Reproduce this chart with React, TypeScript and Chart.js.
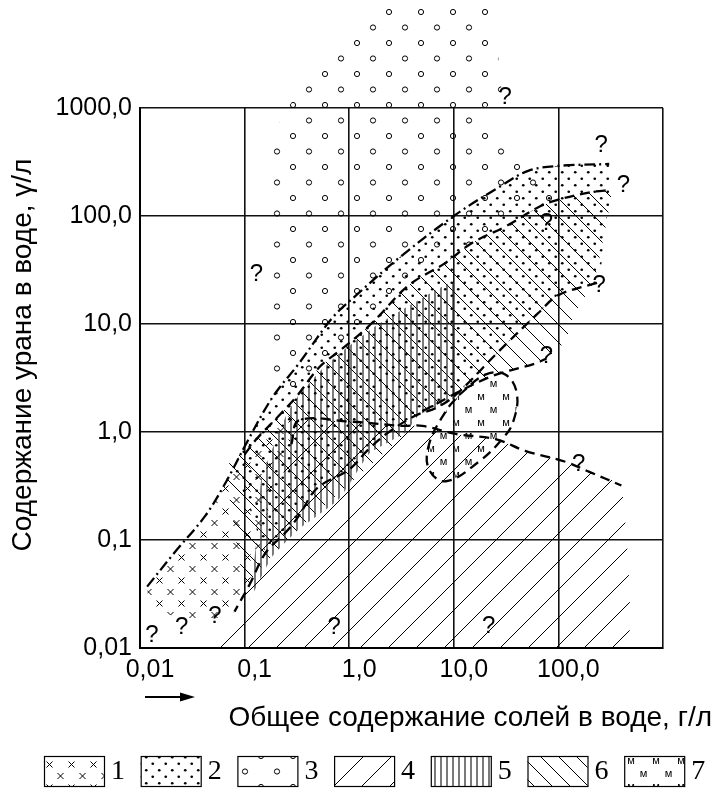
import React, { useEffect, useRef } from "react";
import { Chart, registerables } from "chart.js";
Chart.register(...registerables);

type P = [number, number];

// ---- axes ----
const xTickValues = [0.01, 0.1, 1, 10, 100, 1000];
const xTickLabels = ["0,01", "0,1", "1,0", "10,0", "100,0", ""];
const yTickValues = [0.01, 0.1, 1, 10, 100, 1000];
const yTickLabels = ["0,01", "0,1", "1,0", "10,0", "100,0", "1000,0"];
const xTitle = "Общее содержание солей в воде, г/л";
const yTitle = "Содержание урана в воде, γ/л";

// ---- regions (x: salts g/l, y: uranium γ/l) ----
const region1: P[] = [[0.0117,0.037],[0.0215,0.077],[0.042,0.167],[0.067,0.35],[0.105,0.74],[0.173,1.19],[0.28,1.46],[0.27,0.77],[0.19,0.3],[0.145,0.102],[0.112,0.039],[0.08,0.0217],[0.046,0.0183],[0.019,0.0203],[0.0124,0.024]];
const region2: P[] = [[0.075,0.45],[0.105,0.8],[0.185,2.1],[0.33,4.3],[0.69,11.4],[1.17,18.5],[3.0,41],[10,100],[27,185],[52,263],[100,291],[306,303],[320,174],[273,66],[234,24],[100,18.5],[64,12.6],[27,5.6],[10.4,2.2],[6.7,1.66],[4.35,1.43],[2.4,1.0],[1.55,0.7],[1.0,0.45],[0.49,0.3],[0.33,0.167],[0.25,0.119],[0.16,0.077],[0.117,0.174],[0.09,0.33]];
const region3: P[] = [[1.14,4500],[2.15,8700],[21.5,8700],[28.7,1300],[17.3,900],[30,440],[58,252],[100,142],[67,123],[32,81],[14.8,56],[8.4,37],[3.7,22.8],[1.85,11.4],[0.8,5.6],[0.52,4.0],[0.31,2.17],[0.215,2.17],[0.166,3.2],[0.166,467],[0.24,866],[0.33,1450]];
const region4: P[] = [[0.055,0.01],[0.09,0.025],[0.13,0.057],[0.2,0.24],[0.28,0.74],[0.33,1.28],[1.0,1.25],[3.2,1.14],[5.0,1.14],[10.4,0.96],[25,0.86],[48,0.67],[117,0.53],[195,0.43],[400,0.32],[437,0.01]];
const region5: P[] = [[0.112,0.028],[0.13,0.10],[0.145,0.37],[0.25,1.43],[0.33,2.2],[0.52,3.6],[0.8,5.3],[1.85,9.8],[4.6,16.6],[10,24],[10,2.08],[6.7,1.66],[4.6,1.43],[3.5,1.0],[2.4,0.81],[1.55,0.63],[0.8,0.24],[0.33,0.126],[0.185,0.071],[0.13,0.037]];
const region6: P[] = [[0.065,0.47],[0.13,0.86],[0.2,1.33],[0.31,2.1],[0.52,4.0],[0.8,5.6],[1.33,8.4],[1.85,11.4],[3.7,22.8],[8.4,37],[14.8,56],[32,81],[67,123],[100,142],[209,167],[320,174],[273,66],[219,25],[140,12.1],[117,7.0],[77,4.8],[21.5,3.2],[5.0,1.56],[3.0,0.86],[1.0,0.33],[0.33,0.126],[0.14,0.054],[0.1,0.039]];
const region7: P[] = [[11.2,2.2],[20,3.4],[31,3.4],[40,2.3],[37,1.25],[29,0.86],[17.3,0.53],[8.4,0.35],[5.8,0.45],[5.8,0.77],[8.4,1.56]];

// ---- boundary lines ----
const boundaryA: P[] = [[0.0117,0.037],[0.0215,0.077],[0.042,0.167],[0.067,0.35],[0.105,0.8],[0.185,2.1],[0.33,4.3],[0.69,11.4],[1.17,18.5],[3.0,41],[10,100],[27,185],[52,263],[100,291],[306,303]];
const boundaryB: P[] = [[0.1,0.62],[0.13,0.86],[0.2,1.33],[0.31,2.1],[0.52,4.0],[0.8,5.6],[1.33,8.4],[1.85,11.4],[3.7,22.8],[8.4,37],[14.8,56],[32,81],[67,123],[100,142],[209,167],[320,174]];
const boundaryC: P[] = [[234,24],[100,18.5],[64,12.6],[27,5.6],[10.4,2.2],[6.7,1.66],[4.35,1.43],[2.4,1.0],[1.55,0.7],[1.0,0.45],[0.49,0.3],[0.33,0.167],[0.25,0.119],[0.16,0.077],[0.112,0.039],[0.08,0.0217]];
const boundaryD: P[] = [[0.28,0.77],[0.33,1.28],[1.0,1.25],[3.2,1.14],[5.0,1.14],[10.4,0.96],[25,0.86],[48,0.67],[117,0.53],[195,0.43],[400,0.32]];
const boundaryE: P[] = [[5.0,1.56],[21.5,3.2],[60,4.3],[77,4.8]];

// ---- question marks ----
const questionMarks: P[] = [[31,1250],[256,450],[418,193],[77,86],[245,22.8],[77,5.0],[0.13,29],[156,0.5],[0.72,0.0154],[21.5,0.016],[0.013,0.0132],[0.025,0.0154],[0.052,0.0195]];

const legendLabels = ["1", "2", "3", "4", "5", "6", "7"];

const FONT = "'Liberation Sans', Arial, sans-serif";
const SERIF = "'Liberation Serif', 'Times New Roman', serif";

function makePattern(w: number, h: number, draw: (c: CanvasRenderingContext2D) => void): CanvasPattern {
  const cv = document.createElement("canvas");
  cv.width = w;
  cv.height = h;
  const c = cv.getContext("2d")!;
  c.strokeStyle = "#000";
  c.fillStyle = "#000";
  c.lineWidth = 1;
  draw(c);
  return c.createPattern(cv, "repeat")!;
}

const toPts = (a: P[], close: boolean) => {
  const pts = a.map(([x, y]) => ({ x, y }));
  if (close) pts.push({ x: a[0][0], y: a[0][1] });
  return pts;
};

export default function App() {
  const ref = useRef<HTMLCanvasElement>(null);

  useEffect(() => {
    const canvas = ref.current!;

    const patCross = makePattern(22, 23, (c) => {
      const cr = (x: number, y: number) => {
        c.beginPath();
        c.moveTo(x - 3, y - 3); c.lineTo(x + 3, y + 3);
        c.moveTo(x + 3, y - 3); c.lineTo(x - 3, y + 3);
        c.stroke();
      };
      cr(5.5, 5.5); cr(16.5, 17);
    });
    const patDots = makePattern(13, 13, (c) => {
      [[3.25, 3.25], [9.75, 9.75]].forEach(([x, y]) => { c.beginPath(); c.arc(x, y, 1.35, 0, Math.PI * 2); c.fill(); });
    });
    const patCircles = makePattern(32, 31, (c) => {
      [[5, 12], [21, 27.5]].forEach(([x, y]) => { c.beginPath(); c.arc(x, y, 2.6, 0, Math.PI * 2); c.stroke(); });
    });
    const patSlash = makePattern(28, 28, (c) => {
      c.beginPath();
      c.moveTo(-1, 29); c.lineTo(29, -1);
      c.moveTo(-1, 1); c.lineTo(1, -1);
      c.moveTo(27, 29); c.lineTo(29, 27);
      c.stroke();
    });
    const patVert = makePattern(6, 6, (c) => {
      c.strokeStyle = "#333"; c.lineWidth = 1.3;
      c.beginPath(); c.moveTo(3, 0); c.lineTo(3, 6); c.stroke();
    });
    const patBack = makePattern(18, 18, (c) => {
      c.beginPath();
      c.moveTo(-1, -1); c.lineTo(19, 19);
      c.moveTo(17, -1); c.lineTo(19, 1);
      c.moveTo(-1, 17); c.lineTo(1, 19);
      c.stroke();
    });
    const patM = makePattern(25, 26, (c) => {
      c.font = `11px ${FONT}`;
      c.textAlign = "center";
      c.textBaseline = "middle";
      c.fillText("м", 6, 7);
      c.fillText("м", 18.5, 20);
    });

    const regionDefs: { data: P[]; pat: CanvasPattern; tension: number }[] = [
      { data: region1, pat: patCross, tension: 0.2 },
      { data: region2, pat: patDots, tension: 0.2 },
      { data: region3, pat: patCircles, tension: 0.1 },
      { data: region4, pat: patSlash, tension: 0.1 },
      { data: region5, pat: patVert, tension: 0.15 },
      { data: region6, pat: patBack, tension: 0.15 },
      { data: region7, pat: patM, tension: 0.35 },
    ];

    const lineDefs: { data: P[]; dash: number[]; close: boolean }[] = [
      { data: boundaryA, dash: [11, 4, 2, 4], close: false },
      { data: boundaryB, dash: [10, 6], close: false },
      { data: boundaryC, dash: [10, 6], close: false },
      { data: boundaryD, dash: [10, 6], close: false },
      { data: boundaryE, dash: [10, 6], close: false },
      { data: region7, dash: [10, 6], close: true },
    ];

    const datasets: any[] = [
      ...lineDefs.map((l, i) => ({
        label: "boundary" + i,
        data: toPts(l.data, l.close),
        borderColor: "#000",
        borderWidth: 2.3,
        borderDash: l.dash,
        fill: false,
        pointRadius: 0,
        tension: l.close ? 0.4 : 0.35,
        order: 0,
      })),
      ...regionDefs.map((r, i) => ({
        label: legendLabels[i],
        data: toPts(r.data, true),
        borderWidth: 0,
        borderColor: "rgba(0,0,0,0)",
        backgroundColor: r.pat,
        fill: "shape",
        pointRadius: 0,
        tension: r.tension,
        order: 1,
        isRegion: true,
      })),
    ];

    const unclipTop = {
      id: "unclipTop",
      beforeDatasetsDraw(chart: any) {
        chart.$savedTop = chart.chartArea.top;
        chart.chartArea.top = 0;
      },
      afterDatasetsDraw(chart: any) {
        chart.chartArea.top = chart.$savedTop;
      },
    };

    const decor = {
      id: "decor",
      afterDraw(chart: any) {
        const ctx: CanvasRenderingContext2D = chart.ctx;
        const xs = chart.scales.x;
        const ys = chart.scales.y;
        const area = chart.chartArea;
        ctx.save();
        ctx.fillStyle = "#000";
        ctx.strokeStyle = "#000";

        // question marks
        ctx.font = `24px ${FONT}`;
        ctx.textAlign = "center";
        ctx.textBaseline = "middle";
        questionMarks.forEach(([x, y]) => {
          ctx.fillText("?", xs.getPixelForValue(x), ys.getPixelForValue(y));
        });

        // x title
        ctx.font = `28px ${FONT}`;
        ctx.textAlign = "right";
        ctx.textBaseline = "alphabetic";
        ctx.fillText(xTitle, chart.width - 4, area.bottom + 78);

        // arrow under first x label
        const ax = area.left + 5;
        const ay = area.bottom + 49;
        ctx.lineWidth = 2;
        ctx.beginPath();
        ctx.moveTo(ax, ay);
        ctx.lineTo(ax + 38, ay);
        ctx.stroke();
        ctx.beginPath();
        ctx.moveTo(ax + 35, ay - 4.5);
        ctx.lineTo(ax + 50, ay);
        ctx.lineTo(ax + 35, ay + 4.5);
        ctx.closePath();
        ctx.fill();

        // y title
        ctx.save();
        ctx.translate(31, (area.top + area.bottom) / 2 - 23);
        ctx.rotate(-Math.PI / 2);
        ctx.font = `28px ${FONT}`;
        ctx.textAlign = "center";
        ctx.textBaseline = "alphabetic";
        ctx.fillText(yTitle, 0, 0);
        ctx.restore();

        // legend
        const regs = chart.data.datasets.filter((d: any) => d.isRegion);
        const x0 = 44, step = 96.7, top = 756, bw = 60, bh = 30;
        ctx.font = `28px ${SERIF}`;
        ctx.textAlign = "left";
        ctx.textBaseline = "middle";
        ctx.lineWidth = 1.2;
        regs.forEach((d: any, i: number) => {
          const x = x0 + i * step;
          ctx.fillStyle = d.backgroundColor;
          ctx.fillRect(x, top, bw, bh);
          ctx.strokeRect(x + 0.5, top + 0.5, bw, bh);
          ctx.fillStyle = "#000";
          ctx.fillText(d.label, x + bw + 7, top + bh / 2 + 1);
        });
        ctx.restore();
      },
    };

    const chart = new Chart(canvas, {
      type: "line",
      data: { datasets },
      plugins: [unclipTop, decor],
      options: {
        responsive: false,
        animation: false,
        events: [],
        layout: { padding: { left: 0, right: 53, top: 108, bottom: 101 } },
        elements: { line: { capBezierPoints: false } },
        plugins: {
          legend: { display: false },
          tooltip: { enabled: false },
          title: { display: false },
        },
        scales: {
          x: {
            type: "logarithmic",
            min: 0.01,
            max: 1000,
            afterBuildTicks: (s: any) => { s.ticks = xTickValues.map((v) => ({ value: v })); },
            afterFit: (s: any) => { s.height = 40; },
            grid: { color: "#111", lineWidth: 1.6, drawTicks: false },
            border: { display: true, color: "#000", width: 2 },
            ticks: {
              autoSkip: false,
              maxRotation: 0,
              padding: 7,
              labelOffset: 10,
              color: "#000",
              font: { family: FONT, size: 25 },
              callback: (_v: any, i: number) => xTickLabels[i],
            },
          },
          y: {
            type: "logarithmic",
            min: 0.01,
            max: 1000,
            afterBuildTicks: (s: any) => { s.ticks = yTickValues.map((v) => ({ value: v })); },
            afterFit: (s: any) => { s.width = 140; },
            grid: { color: "#111", lineWidth: 1.6, drawTicks: false },
            border: { display: true, color: "#000", width: 2 },
            ticks: {
              autoSkip: false,
              padding: 8,
              color: "#000",
              font: { family: FONT, size: 25 },
              callback: (_v: any, i: number) => yTickLabels[i],
            },
          },
        },
      } as any,
    });

    return () => chart.destroy();
  }, []);

  return (
    <div style={{ position: "fixed", left: 0, top: 0, width: 716, height: 789, background: "#fff" }}>
      <canvas ref={ref} width={716} height={789} style={{ display: "block" }} />
    </div>
  );
}
